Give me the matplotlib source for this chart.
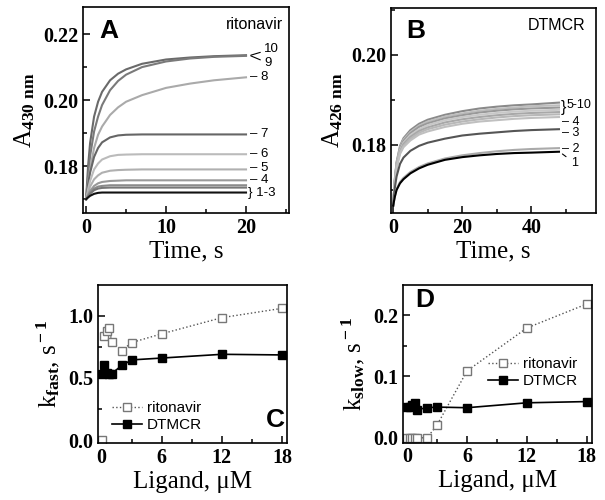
import matplotlib
matplotlib.use("Agg")
import matplotlib.pyplot as plt
from matplotlib.ticker import MultipleLocator

plt.rcParams["font.family"] = "Liberation Serif"
plt.rcParams["font.weight"] = "bold"
plt.rcParams["mathtext.fontset"] = "custom"
plt.rcParams["mathtext.rm"] = "Liberation Serif:bold"
plt.rcParams["mathtext.it"] = "Liberation Serif:bold"
plt.rcParams["mathtext.bf"] = "Liberation Serif:bold"

# ---- panel A: ritonavir traces (A430) ----
t_a = [0, 0.25, 0.5, 1, 1.5, 2, 3, 4, 5, 7, 10, 13, 16, 20]
rit_traces = {
    "10": [0.170, 0.180, 0.187, 0.1950, 0.1995, 0.2025, 0.2060, 0.2080, 0.2093, 0.2110, 0.2123, 0.2129, 0.2133, 0.2136],
    "9": [0.170, 0.177, 0.183, 0.1905, 0.1950, 0.1985, 0.2030, 0.2058, 0.2077, 0.2100, 0.2117, 0.2126, 0.2131, 0.2134],
    "8": [0.170, 0.175, 0.179, 0.1855, 0.1895, 0.1920, 0.1955, 0.1978, 0.1995, 0.2015, 0.2037, 0.2050, 0.2060, 0.2069],
    "7": [0.170, 0.1745, 0.178, 0.1828, 0.1855, 0.1872, 0.1887, 0.1893, 0.1895, 0.1896, 0.1896, 0.1896, 0.1896, 0.1896],
    "6": [0.170, 0.173, 0.1755, 0.1790, 0.1808, 0.1820, 0.1830, 0.1834, 0.1835, 0.1836, 0.1836, 0.1836, 0.1836, 0.1836],
    "5": [0.170, 0.1720, 0.1738, 0.1760, 0.1772, 0.1780, 0.1786, 0.1788, 0.1789, 0.1790, 0.1790, 0.1790, 0.1790, 0.1790],
    "4": [0.170, 0.1713, 0.1725, 0.1740, 0.1748, 0.1752, 0.1755, 0.1756, 0.1757, 0.1757, 0.1757, 0.1757, 0.1757, 0.1757],
    "3": [0.170, 0.1710, 0.1720, 0.1732, 0.1738, 0.1740, 0.1742, 0.1742, 0.1742, 0.1742, 0.1742, 0.1742, 0.1742, 0.1742],
    "2": [0.170, 0.1708, 0.1716, 0.1727, 0.1732, 0.1734, 0.1735, 0.1735, 0.1735, 0.1735, 0.1735, 0.1735, 0.1735, 0.1735],
    "1": [0.170, 0.1705, 0.1710, 0.1716, 0.1719, 0.1720, 0.1720, 0.1720, 0.1720, 0.1720, 0.1720, 0.1720, 0.1720, 0.1720],
}
rit_colors = {"10": "#6a6a6a", "9": "#7a7a7a", "8": "#aaaaaa", "7": "#666666", "6": "#bbbbbb",
              "5": "#b0b0b0", "4": "#999999", "3": "#8a8a8a", "2": "#777777", "1": "#111111"}

# ---- panel B: DTMCR traces (A426) ----
t_b = [0, 0.5, 1, 2, 3, 5, 7.5, 10, 15, 20, 25, 30, 35, 40, 48]
dtm_traces = {
    "10": [0.1665, 0.1725, 0.1762, 0.1798, 0.1815, 0.1833, 0.1847, 0.1856, 0.1867, 0.1875, 0.1881, 0.1885, 0.1888, 0.1890, 0.1894],
    "9": [0.1665, 0.1723, 0.1760, 0.1795, 0.1812, 0.1829, 0.1843, 0.1852, 0.1863, 0.1870, 0.1876, 0.1880, 0.1883, 0.1886, 0.1888],
    "8": [0.1665, 0.1722, 0.1758, 0.1792, 0.1809, 0.1826, 0.1840, 0.1848, 0.1859, 0.1866, 0.1872, 0.1876, 0.1879, 0.1881, 0.1883],
    "7": [0.1665, 0.1720, 0.1756, 0.1789, 0.1805, 0.1822, 0.1835, 0.1844, 0.1855, 0.1862, 0.1867, 0.1871, 0.1874, 0.1876, 0.1878],
    "6": [0.1665, 0.1719, 0.1753, 0.1786, 0.1802, 0.1818, 0.1831, 0.1839, 0.1850, 0.1857, 0.1862, 0.1866, 0.1869, 0.1871, 0.1873],
    "5": [0.1665, 0.1717, 0.1751, 0.1783, 0.1798, 0.1814, 0.1827, 0.1835, 0.1845, 0.1852, 0.1857, 0.1861, 0.1864, 0.1866, 0.1868],
    "4": [0.1665, 0.1715, 0.1748, 0.1780, 0.1795, 0.1810, 0.1823, 0.1830, 0.1840, 0.1847, 0.1852, 0.1855, 0.1858, 0.1860, 0.1862],
    "3": [0.1665, 0.1705, 0.1730, 0.1758, 0.1772, 0.1787, 0.1798, 0.1805, 0.1814, 0.1821, 0.1825, 0.1828, 0.1831, 0.1833, 0.1835],
    "2": [0.1665, 0.1686, 0.1702, 0.1718, 0.1727, 0.1740, 0.1751, 0.1759, 0.1770, 0.1777, 0.1782, 0.1786, 0.1789, 0.1791, 0.1793],
    "1": [0.1665, 0.1685, 0.1700, 0.1715, 0.1724, 0.1737, 0.1748, 0.1756, 0.1767, 0.1773, 0.1777, 0.1780, 0.1782, 0.1783, 0.1785],
}
dtm_colors = {"10": "#8a8a8a", "9": "#bdbdbd", "8": "#999999", "7": "#c8c8c8", "6": "#a8a8a8",
              "5": "#b8b8b8", "4": "#c0c0c0", "3": "#555555", "2": "#aaaaaa", "1": "#000000"}

# ---- panels C/D: rate constants vs ligand ----
ligand = [0, 0.25, 0.5, 0.75, 1, 2, 3, 6, 12, 18]
rit_kfast = [0.0, 0.84, 0.88, 0.905, 0.79, 0.72, 0.785, 0.855, 0.985, 1.06]
dtm_kfast = [0.53, 0.60, 0.54, 0.53, 0.535, 0.60, 0.645, 0.66, 0.69, 0.685]
rit_kslow = [0.0, 0.0, 0.0, 0.0, 0.0, 0.0, 0.021, 0.109, 0.179, 0.218]
dtm_kslow = [0.050, 0.050, 0.054, 0.056, 0.046, 0.049, 0.050, 0.049, 0.057, 0.059]

sans = "Liberation Sans"
lab = dict(fontsize=9.5, family=sans, fontweight="normal", va="center")
labB = dict(fontsize=9, family=sans, fontweight="normal", va="center")

fig = plt.figure(figsize=(6.05, 5.0), dpi=100)
axA = fig.add_axes([0.137, 0.574, 0.341, 0.412])
axB = fig.add_axes([0.646, 0.574, 0.339, 0.410])
axC = fig.add_axes([0.162, 0.114, 0.312, 0.316])
axD = fig.add_axes([0.666, 0.115, 0.312, 0.315])

for ax in (axA, axB, axC, axD):
    ax.tick_params(which="both", direction="in", top=False, right=False, labelsize=14.5, width=1.1)
    ax.tick_params(which="major", length=5)
    ax.tick_params(which="minor", length=3)
    for s in ax.spines.values():
        s.set_linewidth(1.2)

# A
for k, ys in rit_traces.items():
    axA.plot(t_a, ys, color=rit_colors[k], lw=1.5)
axA.set_xlim(-0.4, 25.4)
axA.set_ylim(0.1658, 0.2282)
axA.xaxis.set_major_locator(MultipleLocator(10))
axA.xaxis.set_minor_locator(MultipleLocator(5))
axA.yaxis.set_major_locator(MultipleLocator(0.02))
axA.yaxis.set_minor_locator(MultipleLocator(0.01))
axA.yaxis.set_major_formatter(plt.FormatStrFormatter("%.2f"))
axA.set_xlabel("Time, s", fontsize=18, labelpad=2)
axA.set_ylabel(r"A$_{\rm 430\ nm}$", fontsize=18, labelpad=4)
axA.text(0.125, 0.883, "A", transform=axA.transAxes, fontsize=19, fontweight="bold", family=sans,
         ha="center", va="center")
axA.text(0.97, 0.913, "ritonavir", transform=axA.transAxes, fontsize=11.5, fontweight="normal",
         family=sans, ha="right", va="center")
end_a = {k: v[-1] for k, v in rit_traces.items()}
axA.annotate("10", xy=(20.6, end_a["10"]), xytext=(22.3, 0.2155), arrowprops=dict(arrowstyle="-", lw=0.8,
             shrinkA=1, shrinkB=0), **lab)
axA.annotate("9", xy=(20.6, end_a["9"]), xytext=(22.3, 0.2112), arrowprops=dict(arrowstyle="-", lw=0.8,
             shrinkA=1, shrinkB=0), **lab)
for k in ["8", "7", "6"]:
    axA.text(20.5, end_a[k], "– " + k, **lab)
axA.text(20.5, 0.1793, "– 5", **lab)
axA.text(20.5, 0.1757, "– 4", **lab)
axA.text(20.3, 0.1719, "} 1-3", **lab)

# B
for k, ys in dtm_traces.items():
    axB.plot(t_b, ys, color=dtm_colors[k], lw=1.5)
axB.set_xlim(-0.66, 58.7)
axB.set_ylim(0.1649, 0.2104)
axB.xaxis.set_major_locator(MultipleLocator(20))
axB.xaxis.set_minor_locator(MultipleLocator(10))
axB.yaxis.set_major_locator(MultipleLocator(0.02))
axB.yaxis.set_minor_locator(MultipleLocator(0.01))
axB.yaxis.set_major_formatter(plt.FormatStrFormatter("%.2f"))
axB.set_xlabel("Time, s", fontsize=18, labelpad=2)
axB.set_ylabel(r"A$_{\rm 426\ nm}$", fontsize=18, labelpad=4)
axB.text(0.12, 0.888, "B", transform=axB.transAxes, fontsize=19, fontweight="bold", family=sans,
         ha="center", va="center")
axB.text(0.95, 0.917, "DTMCR", transform=axB.transAxes, fontsize=11.5, fontweight="normal",
         family=sans, ha="right", va="center")
end_b = {k: v[-1] for k, v in dtm_traces.items()}
axB.text(48.4, 0.1884, "}", fontsize=11.5, family=sans, fontweight="normal", va="center")
axB.text(50.2, 0.1888, "5-10", **labB)
axB.text(48.8, 0.1851, "– 4", **labB)
axB.text(48.8, 0.1827, "– 3", **labB)
axB.text(48.8, end_b["2"] - 0.0002, "– 2", **labB)
axB.annotate("1", xy=(49.0, end_b["1"] - 0.0005), xytext=(51.5, 0.1760),
             arrowprops=dict(arrowstyle="-", lw=0.8, shrinkA=2, shrinkB=0), **labB)

# C
axC.plot(ligand[1:], rit_kfast[1:], ls=":", color="#555555", lw=1.0, marker="s", ms=6,
         mfc="white", mec="#777777", mew=1.0, label="ritonavir")
axC.plot(ligand[:1], rit_kfast[:1], ls="none", marker="s", ms=6, mfc="white", mec="#777777", mew=1.0)
axC.plot(ligand, dtm_kfast, ls="-", color="black", lw=1.2, marker="s", ms=6, mfc="black", mec="black",
         label="DTMCR")
axC.set_xlim(-0.37, 18.48)
axC.set_ylim(-0.024, 1.248)
axC.xaxis.set_major_locator(MultipleLocator(6))
axC.xaxis.set_minor_locator(MultipleLocator(3))
axC.yaxis.set_major_locator(MultipleLocator(0.5))
axC.yaxis.set_minor_locator(MultipleLocator(0.25))
axC.yaxis.set_major_formatter(plt.FormatStrFormatter("%.1f"))
axC.set_xlabel(r"Ligand, μM", fontsize=18, labelpad=2)
axC.set_ylabel(r"k$_{\rm fast}$, s$^{\rm -1}$", fontsize=18, labelpad=4)
axC.text(0.937, 0.146, "C", transform=axC.transAxes, fontsize=19, fontweight="bold", family=sans,
         ha="center", va="center")
axC.legend(loc="lower left", bbox_to_anchor=(0.0, -0.02), frameon=False, handlelength=2.0, handletextpad=0.3,
           labelspacing=0.2, prop={"family": sans, "size": 11, "weight": "normal"})

# D
axD.plot(ligand, rit_kslow, ls=":", color="#555555", lw=1.0, marker="s", ms=5.5,
         mfc="white", mec="#777777", mew=1.0, label="ritonavir")
axD.plot(ligand, dtm_kslow, ls="-", color="black", lw=1.2, marker="s", ms=6, mfc="black", mec="black",
         label="DTMCR")
axD.set_xlim(-0.43, 18.5)
axD.set_ylim(-0.0077, 0.249)
axD.xaxis.set_major_locator(MultipleLocator(6))
axD.xaxis.set_minor_locator(MultipleLocator(3))
axD.yaxis.set_major_locator(MultipleLocator(0.1))
axD.yaxis.set_minor_locator(MultipleLocator(0.05))
axD.yaxis.set_major_formatter(plt.FormatStrFormatter("%.1f"))
axD.set_xlabel(r"Ligand, μM", fontsize=18, labelpad=2)
axD.set_ylabel(r"k$_{\rm slow}$, s$^{\rm -1}$", fontsize=18, labelpad=4)
axD.text(0.116, 0.903, "D", transform=axD.transAxes, fontsize=19, fontweight="bold", family=sans,
         ha="center", va="center")
axD.legend(loc="center right", bbox_to_anchor=(1.0, 0.445), frameon=False, handlelength=2.0, handletextpad=0.3,
           labelspacing=0.2, prop={"family": sans, "size": 11, "weight": "normal"})

fig.savefig("out.png", dpi=100)
